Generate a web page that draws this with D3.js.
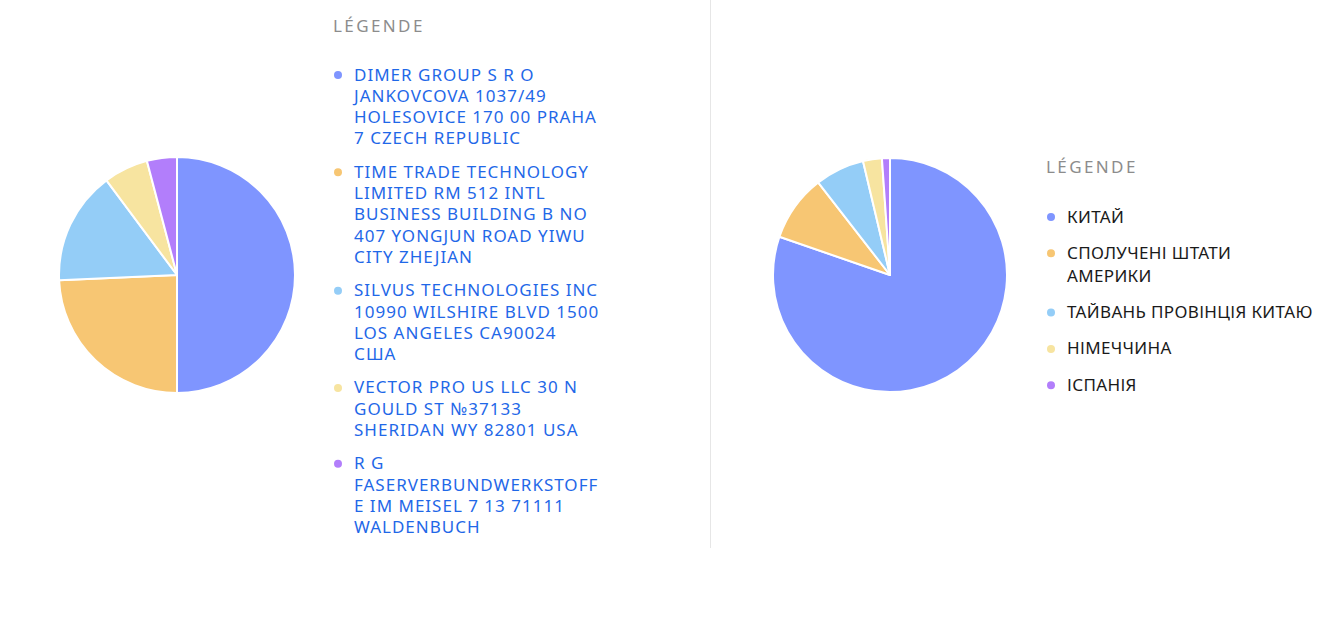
<!DOCTYPE html>
<html>
<head>
<meta charset="utf-8">
<script src="https://cdn.jsdelivr.net/npm/d3@7"></script>
<style>
  html, body { margin: 0; padding: 0; background: #fff; }
  svg { display: block; }
  text { font-family: "Noto Sans", "Open Sans", sans-serif; }
</style>
</head>
<body>
<svg id="chart" width="1336" height="621"></svg>
<script>
// ---- Data ----
const shippers = [
  "DIMER GROUP S R O JANKOVCOVA 1037/49 HOLESOVICE 170 00 PRAHA 7 CZECH REPUBLIC",
  "TIME TRADE TECHNOLOGY LIMITED RM 512 INTL BUSINESS BUILDING B NO 407 YONGJUN ROAD YIWU CITY ZHEJIAN",
  "SILVUS TECHNOLOGIES INC 10990 WILSHIRE BLVD 1500 LOS ANGELES CA90024 США",
  "VECTOR PRO US LLC 30 N GOULD ST №37133 SHERIDAN WY 82801 USA",
  "R G FASERVERBUNDWERKSTOFFE IM MEISEL 7 13 71111 WALDENBUCH"
];
const shipperShares = [50.0, 24.3, 15.5, 6.1, 4.1];

const countries = [
  "КИТАЙ",
  "СПОЛУЧЕНІ ШТАТИ АМЕРИКИ",
  "ТАЙВАНЬ ПРОВІНЦІЯ КИТАЮ",
  "НІМЕЧЧИНА",
  "ІСПАНІЯ"
];
const countryShares = [80.3, 9.2, 6.8, 2.6, 1.1];

const legendTitle = "LÉGENDE";
const palette = ["#7f95ff", "#f7c673", "#94cdf7", "#f7e4a0", "#b27efb"];

// ---- Drawing ----
const svg = d3.select("#chart");

// divider
svg.append("line")
  .attr("x1", 710.5).attr("x2", 710.5)
  .attr("y1", 0).attr("y2", 548)
  .attr("stroke", "#e6e6e6").attr("stroke-width", 1);

function drawPie(values, cx, cy, r) {
  const color = d3.scaleOrdinal().domain(d3.range(values.length)).range(palette);
  const pie = d3.pie().sort(null).value(d => d);
  const arc = d3.arc().innerRadius(0).outerRadius(r);
  const g = svg.append("g").attr("transform", `translate(${cx},${cy})`);
  g.selectAll("path")
    .data(pie(values))
    .join("path")
    .attr("d", arc)
    .attr("fill", (d, i) => color(i))
    .attr("stroke", "#fff")
    .attr("stroke-width", 2)
    .attr("stroke-linejoin", "round");
}

function wrapLines(textSel, str, maxW) {
  const words = str.split(/\s+/);
  const lines = [];
  let line = "";
  const measure = s => { textSel.text(s); return textSel.node().getComputedTextLength(); };
  for (let w of words) {
    let cand = line ? line + " " + w : w;
    if (measure(cand) <= maxW) { line = cand; continue; }
    if (line) { lines.push(line); line = ""; }
    if (measure(w) <= maxW) { line = w; continue; }
    let chunk = "";
    for (const ch of w) {
      if (measure(chunk + ch) <= maxW) chunk += ch;
      else { lines.push(chunk); chunk = ch; }
    }
    line = chunk;
  }
  if (line) lines.push(line);
  textSel.text(null);
  return lines;
}

function drawLegend(labels, x, titleY, firstY, lineH, gap, maxW, fontSize, spacing, textColor) {
  const color = d3.scaleOrdinal().domain(d3.range(labels.length)).range(palette);
  const g = svg.append("g");
  g.append("text")
    .attr("x", x).attr("y", titleY)
    .attr("dominant-baseline", "central")
    .attr("fill", "#8c8c8c")
    .attr("font-size", 17)
    .attr("letter-spacing", 2.4)
    .text(legendTitle);
  let y = firstY;
  labels.forEach((lab, i) => {
    g.append("circle")
      .attr("cx", x + 5).attr("cy", y + 1)
      .attr("r", 4)
      .attr("fill", color(i));
    const t = g.append("text")
      .attr("x", x + 21)
      .attr("font-size", fontSize)
      .attr("letter-spacing", spacing)
      .attr("fill", textColor);
    const lines = wrapLines(t, lab, maxW);
    lines.forEach((ln, k) => {
      t.append("tspan")
        .attr("x", x + 21)
        .attr("y", y + k * lineH)
        .attr("dominant-baseline", "central")
        .text(ln);
    });
    y += lines.length * lineH + gap;
  });
}

drawPie(shipperShares, 177, 275, 118);
drawPie(countryShares, 890, 275, 117);

drawLegend(shippers, 333, 25, 74, 21.3, 12, 247, 17, 1, "#1f68e8");
drawLegend(countries, 1046, 166, 216, 23, 13.3, 252, 17, 0.35, "#1a1a1a");
</script>
</body>
</html>
